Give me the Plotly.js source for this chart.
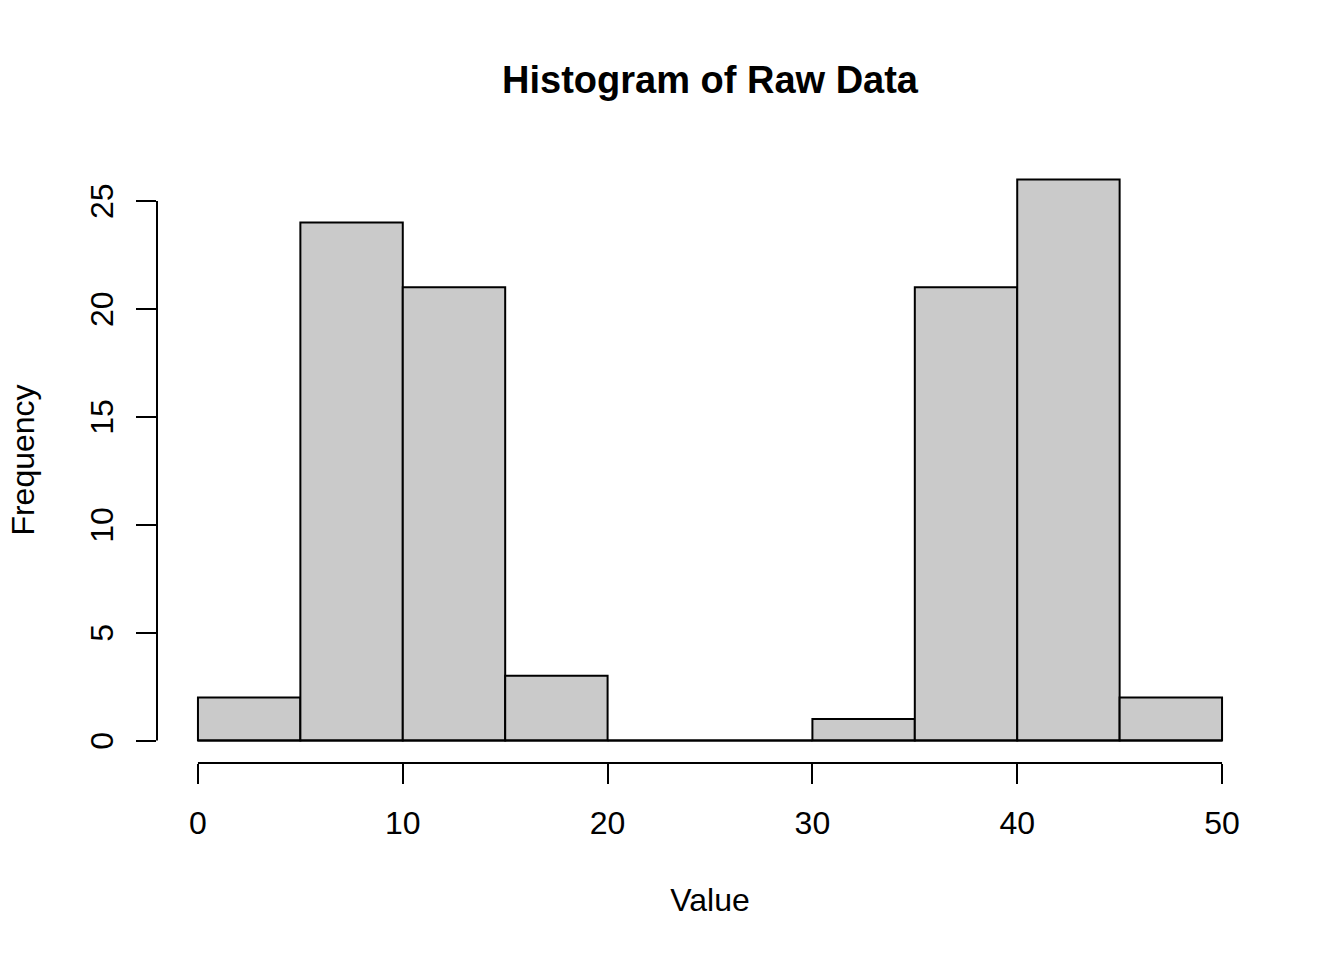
<!DOCTYPE html>
<html>
<head>
<meta charset="utf-8">
<script src="https://cdn.plot.ly/plotly-3.0.1.min.js"></script>
<style>html,body{margin:0;padding:0;background:#fff;}#chart{width:1344px;height:960px;}</style>
</head>
<body>
<div id="chart"></div>
<script>
// Histogram bins (edges) and counts
const binStarts = [0, 5, 10, 15, 20, 25, 30, 35, 40, 45];
const binWidth = 5;
const counts = [2, 24, 21, 3, 0, 0, 1, 21, 26, 2];
const xTicks = [0, 10, 20, 30, 40, 50];
const yTicks = [0, 5, 10, 15, 20, 25];
const titleText = "Histogram of Raw Data";
const xLabel = "Value";
const yLabel = "Frequency";

const centers = binStarts.map(s => s + binWidth / 2);
const xMin = binStarts[0];
const xMax = binStarts[binStarts.length - 1] + binWidth;
const yMax = Math.max(...counts);
const xPad = (xMax - xMin) * 0.04;
const yPad = yMax * 0.04;

const FONT = "Liberation Sans, Arial, Helvetica, sans-serif";

const bars = {
  type: "bar",
  x: centers,
  y: counts,
  width: binStarts.map(() => binWidth),
  marker: { color: "#CACACA", line: { color: "#000", width: 2 } },
  hoverinfo: "x+y"
};
// baseline: the bottom edges of the bins (zero-height bins appear as a line)
const baseline = {
  type: "scatter",
  mode: "lines",
  x: [xMin, xMax],
  y: [0, 0],
  line: { color: "#000", width: 2 },
  hoverinfo: "skip"
};

const layout = {
  width: 1344,
  height: 960,
  margin: { l: 157, r: 81, t: 157, b: 197 },
  paper_bgcolor: "#fff",
  plot_bgcolor: "#fff",
  showlegend: false,
  bargap: 0,
  font: { family: FONT, size: 32, color: "#000" },
  title: {
    text: "<b>" + titleText + "</b>",
    font: { family: FONT, size: 38, color: "#000" },
    x: 0.5283, xref: "container", xanchor: "center",
    y: 1 - 80 / 960, yref: "container", yanchor: "middle"
  },
  xaxis: {
    range: [xMin - xPad, xMax + xPad],
    tickmode: "array",
    tickvals: xTicks,
    ticktext: xTicks.map(String),
    ticks: "outside", ticklen: 20, tickwidth: 2, tickcolor: "#000",
    ticklabelstandoff: 12,
    showline: false, showgrid: false, zeroline: false,
    tickfont: { family: FONT, size: 32, color: "#000" },
    title: { text: xLabel, font: { family: FONT, size: 32, color: "#000" }, standoff: 48 },
    fixedrange: true
  },
  yaxis: {
    range: [-yPad, yMax + yPad],
    tickmode: "array",
    tickvals: yTicks,
    ticktext: yTicks.map(String),
    tickangle: -90,
    ticks: "outside", ticklen: 20, tickwidth: 2, tickcolor: "#000",
    ticklabelstandoff: 10,
    ticklabelshift: 5,
    showline: false, showgrid: false, zeroline: false,
    tickfont: { family: FONT, size: 32, color: "#000" },
    title: { text: yLabel, font: { family: FONT, size: 32, color: "#000" }, standoff: 40 },
    fixedrange: true
  },
  shapes: [
    { type: "line", xref: "x", yref: "paper", x0: xTicks[0], x1: xTicks[xTicks.length - 1], y0: 0, y1: 0,
      line: { color: "#000", width: 2 } },
    { type: "line", xref: "paper", yref: "y", x0: 0, x1: 0, y0: yTicks[0], y1: yTicks[yTicks.length - 1],
      line: { color: "#000", width: 2 } }
  ]
};

Plotly.newPlot("chart", [bars, baseline], layout, { displayModeBar: false, staticPlot: true });
</script>
</body>
</html>
